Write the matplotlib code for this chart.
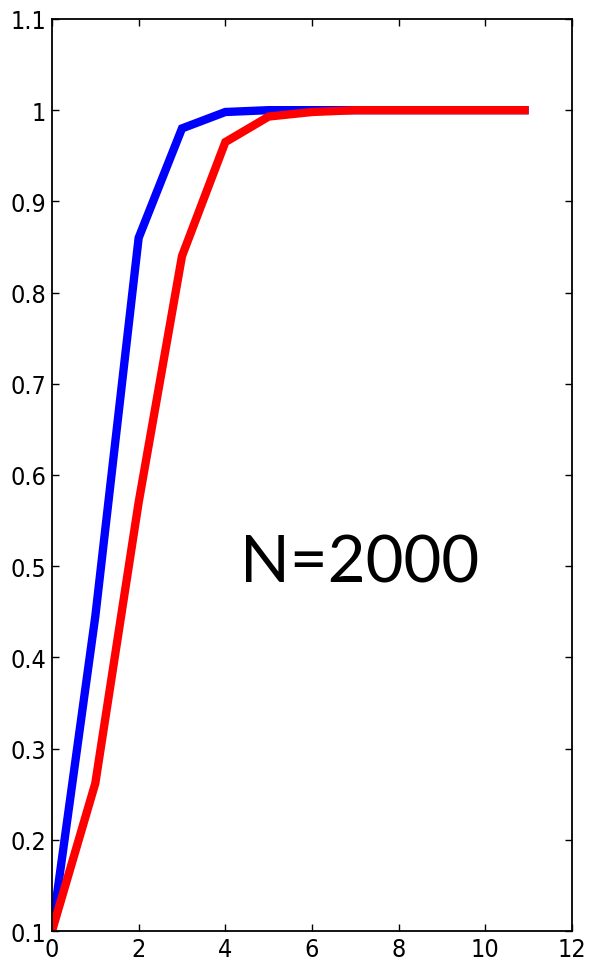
import numpy as np
import matplotlib.pyplot as plt

# data
x = [0, 1, 2, 3, 4, 5, 6, 7, 8, 9, 10, 11]
blue = [0.1, 0.445, 0.86, 0.98, 0.998, 1.0, 1.0, 1.0, 1.0, 1.0, 1.0, 1.0]
red = [0.1, 0.262, 0.57, 0.84, 0.965, 0.993, 0.998, 1.0, 1.0, 1.0, 1.0, 1.0]
xticks = [0, 2, 4, 6, 8, 10, 12]
yticks = [0.1, 0.2, 0.3, 0.4, 0.5, 0.6, 0.7, 0.8, 0.9, 1.0, 1.1]
ylabels = ['0.1', '0.2', '0.3', '0.4', '0.5', '0.6', '0.7', '0.8', '0.9', '1', '1.1']

plt.rcParams['font.family'] = ['DejaVu Sans']
plt.rcParams['font.stretch'] = 'condensed'

fig = plt.figure(figsize=(5.9, 9.79), dpi=100)
ax = fig.add_axes([0.0881, 0.048, 0.8814, 0.9316])

ax.plot(x, blue, color='#0000ff', linewidth=6, solid_joinstyle='miter', solid_capstyle='butt')
ax.plot(x, red, color='#ff0000', linewidth=6, solid_joinstyle='miter', solid_capstyle='butt')

ax.text(7.1, 0.503, 'N=2000', fontsize=47, family=['Lato', 'DejaVu Sans'], stretch='normal',
        ha='center', va='center')

ax.set_xlim(0, 12)
ax.set_ylim(0.1, 1.1)
ax.set_xticks(xticks)
ax.set_yticks(yticks)
ax.set_yticklabels(ylabels)
ax.tick_params(direction='in', top=True, right=True, length=5, width=1,
               labelsize=18, pad=4)
for s in ax.spines.values():
    s.set_linewidth(1.3)

fig.savefig('out.png', dpi=100)
